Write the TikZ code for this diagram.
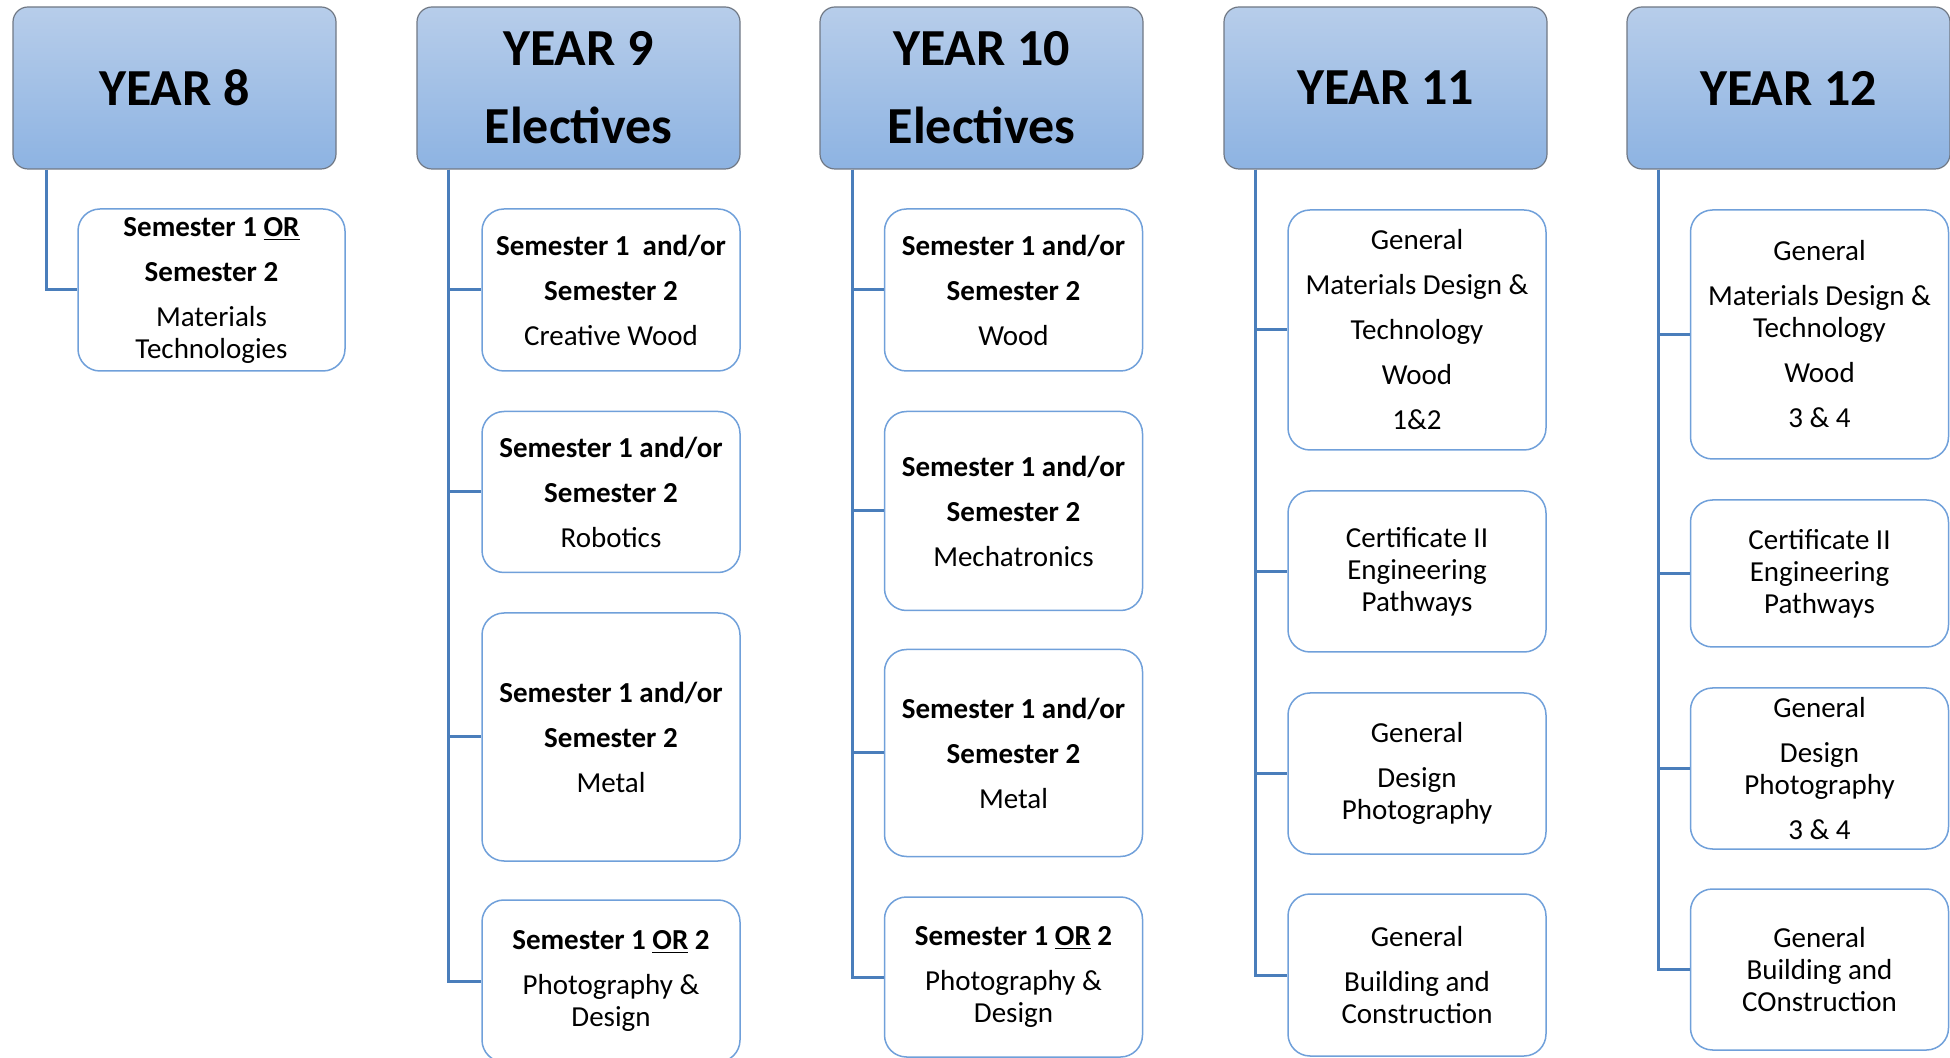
\documentclass[tikz,border=0pt]{standalone}
\usepackage{fontspec}
\setmainfont{Carlito}
\definecolor{hdtop}{RGB}{183,205,234}
\definecolor{hdbot}{RGB}{141,179,226}
\definecolor{hdline}{RGB}{112,120,132}
\definecolor{boxline}{RGB}{112,160,218}
\definecolor{linkblue}{RGB}{74,126,187}
\newcommand{\tightbr}{\\[-6.5pt]}
\tikzset{
  yearbox/.style={
    draw=hdline, line width=0.6pt, rounded corners=7.5pt,
    top color=hdtop, bottom color=hdbot,
    minimum width=161.5pt, minimum height=81pt, inner sep=0pt,
    align=center, font=\bfseries\fontsize{26}{39}\selectfont
  },
  subjbox/.style={
    draw=boxline, line width=0.75pt, fill=white, rounded corners=11pt,
    minimum width=129pt, inner sep=0pt,
    align=center, font=\fontsize{14.5}{22.5}\selectfont
  },
  branch/.style={draw=linkblue, line width=1.5pt}
}

\begin{document}
\begin{tikzpicture}[x=0.5pt,y=-0.5pt]
	\useasboundingbox (0,0) rectangle (1950,1058);
	\node[yearbox] (y8) at (174.5,88) {YEAR 8};
	\node[yearbox] (y9) at (578.5,88) {YEAR 9\\Electives};
	\node[yearbox] (y10) at (981.5,88) {YEAR 10\\Electives};
	\node[yearbox] (y11) at (1385.5,88) {YEAR 11};
	\node[yearbox] (y12) at (1788.5,88) {YEAR 12};

	\node[subjbox, minimum width=133.5pt, minimum height=81pt] (y8a) at (211.5,290)
		{\textbf{Semester 1 \underline{OR}}\\\textbf{Semester 2}\\Materials\tightbr Technologies};

	\node[subjbox, minimum height=81pt] (y9a) at (611,290)
		{\textbf{Semester 1\ \ and/or}\\\textbf{Semester 2}\\Creative Wood};
	\node[subjbox, minimum height=80.5pt] (y9b) at (611,492)
		{\textbf{Semester 1 and/or}\\\textbf{Semester 2}\\Robotics};
	\node[subjbox, minimum height=124pt] (y9c) at (611,737)
		{\textbf{Semester 1 and/or}\\\textbf{Semester 2}\\Metal};
	\node[subjbox, minimum height=81pt] (y9d) at (611,981)
		{\textbf{Semester 1 \underline{OR} 2}\\Photography \&\tightbr Design};

	\node[subjbox, minimum height=81pt] (y10a) at (1013.5,290)
		{\textbf{Semester 1 and/or}\\\textbf{Semester 2}\\Wood};
	\node[subjbox, minimum height=99.5pt] (y10b) at (1013.5,511)
		{\textbf{Semester 1 and/or}\\\textbf{Semester 2}\\Mechatronics};
	\node[subjbox, minimum height=103.5pt] (y10c) at (1013.5,753)
		{\textbf{Semester 1 and/or}\\\textbf{Semester 2}\\Metal};
	\node[subjbox, minimum height=80pt] (y10d) at (1013.5,977)
		{\textbf{Semester 1 \underline{OR} 2}\\Photography \&\tightbr Design};

	\node[subjbox, minimum height=120pt] (y11a) at (1417,330)
		{General\\Materials Design \&\\Technology\\Wood\\1\&2};
	\node[subjbox, minimum height=80.5pt] (y11b) at (1417,571.5)
		{Certificate II\tightbr Engineering\tightbr Pathways};
	\node[subjbox, minimum height=80.5pt] (y11c) at (1417,773.5)
		{General\\Design\tightbr Photography};
	\node[subjbox, minimum height=81pt] (y11d) at (1417,975)
		{General\\Building and\tightbr Construction};

	\node[subjbox, minimum height=124.5pt] (y12a) at (1819.5,334.5)
		{General\\Materials Design \&\tightbr Technology\\Wood\\3 \& 4};
	\node[subjbox, minimum height=73.5pt] (y12b) at (1819.5,573.5)
		{Certificate II\tightbr Engineering\tightbr Pathways};
	\node[subjbox, minimum height=80.5pt] (y12c) at (1819.5,768.5)
		{General\\Design\tightbr Photography\\3 \& 4};
	\node[subjbox, minimum height=80.5pt] (y12d) at (1819.5,969.5)
		{General\tightbr Building and\tightbr COnstruction};

	\coordinate (t8) at ([xshift=17pt]y8.south west);
	\coordinate (t9) at ([xshift=16pt]y9.south west);
	\coordinate (t10) at ([xshift=16.5pt]y10.south west);
	\coordinate (t11) at ([xshift=16pt]y11.south west);
	\coordinate (t12) at ([xshift=16pt]y12.south west);

	\draw[branch] (t8) |- (y8a.west);
	\foreach \y in {9,10,11,12}
		\foreach \c in {a,b,c,d}
			\draw[branch] (t\y) |- (y\y\c.west);
\end{tikzpicture}
\end{document}
